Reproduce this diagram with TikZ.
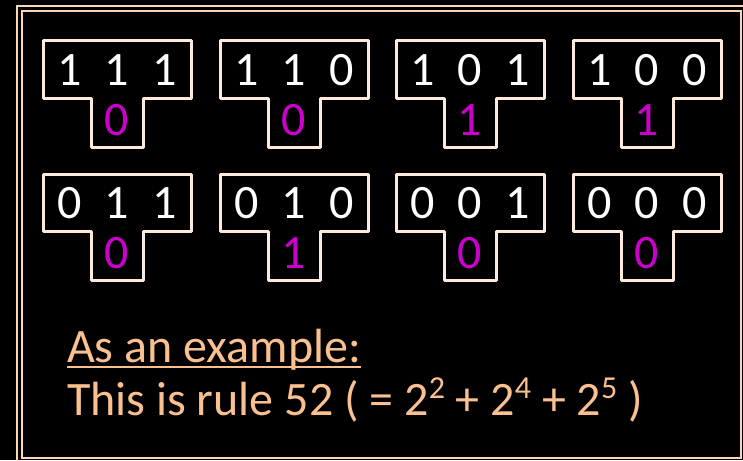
\documentclass[tikz,border=0pt]{standalone}
\usepackage{fontspec}
\setmainfont{Carlito}
\definecolor{tline}{HTML}{FDEADA}
\definecolor{fline}{HTML}{FCD5B5}
\definecolor{peach}{HTML}{FAC090}
\definecolor{mag}{HTML}{CC00CC}
\begin{document}
\begin{tikzpicture}[x=1pt,y=-1pt,
  tshape/.style={draw=tline,line width=3pt,line join=round},
  bit/.style={text=white,font=\fontsize{48}{48}\selectfont,anchor=base,inner sep=0pt},
  outbit/.style={text=mag,font=\fontsize{48}{48}\selectfont,anchor=base,inner sep=0pt},
  caption/.style={text=peach,font=\fontsize{48}{48}\selectfont,anchor=base west,inner sep=0pt}]
\useasboundingbox (0,0) rectangle (743,460);
\fill[black] (0,0) rectangle (743,460);
% frames
\draw[fline,line width=2pt] (17,470) -- (17,6) -- (760,6);
\draw[fline,line width=2pt] (22,458) rectangle (741,11);
% T shapes
\foreach \r/\y in {1/41,2/174}{
  \foreach \c/\x in {1/43,2/220,3/396,4/573}{
    \draw[tshape] (\x,\y) -- ++(148,0) -- ++(0,57) -- ++(-48,0) -- ++(0,49) -- ++(-52,0) -- ++(0,-49) -- ++(-48,0) -- cycle;
  }
}
% bits: row 1
\foreach \c/\x/\a/\b/\d/\o in {1/43/1/1/1/0,2/220/1/1/0/0,3/396/1/0/1/1,4/573/1/0/0/1}{
  \node[bit] (a1\c) at (\x+27,85) {\a};
  \node[bit] (b1\c) at (\x+74,85) {\b};
  \node[bit] (d1\c) at (\x+122,85) {\d};
  \node[outbit] (o1\c) at (\x+74,135) {\o};
}
\foreach \c/\x/\a/\b/\d/\o in {1/43/0/1/1/0,2/220/0/1/0/1,3/396/0/0/1/0,4/573/0/0/0/0}{
  \node[bit] (a2\c) at (\x+27,218) {\a};
  \node[bit] (b2\c) at (\x+74,218) {\b};
  \node[bit] (d2\c) at (\x+122,218) {\d};
  \node[outbit] (o2\c) at (\x+74,268) {\o};
}
\newcommand{\supr}[1]{\raisebox{0.34em}{\fontsize{32}{32}\selectfont #1}}
\node[caption] (ex) at (67,362) {As an example:};
\draw[peach,line width=2.5pt] ([yshift=-5pt]ex.base west) -- ([yshift=-5pt]ex.base east);
\node[caption] (rule) at (67,415) {This is rule 52 ( = 2\supr{2} + 2\supr{4} + 2\supr{5} )};
\end{tikzpicture}
\end{document}
